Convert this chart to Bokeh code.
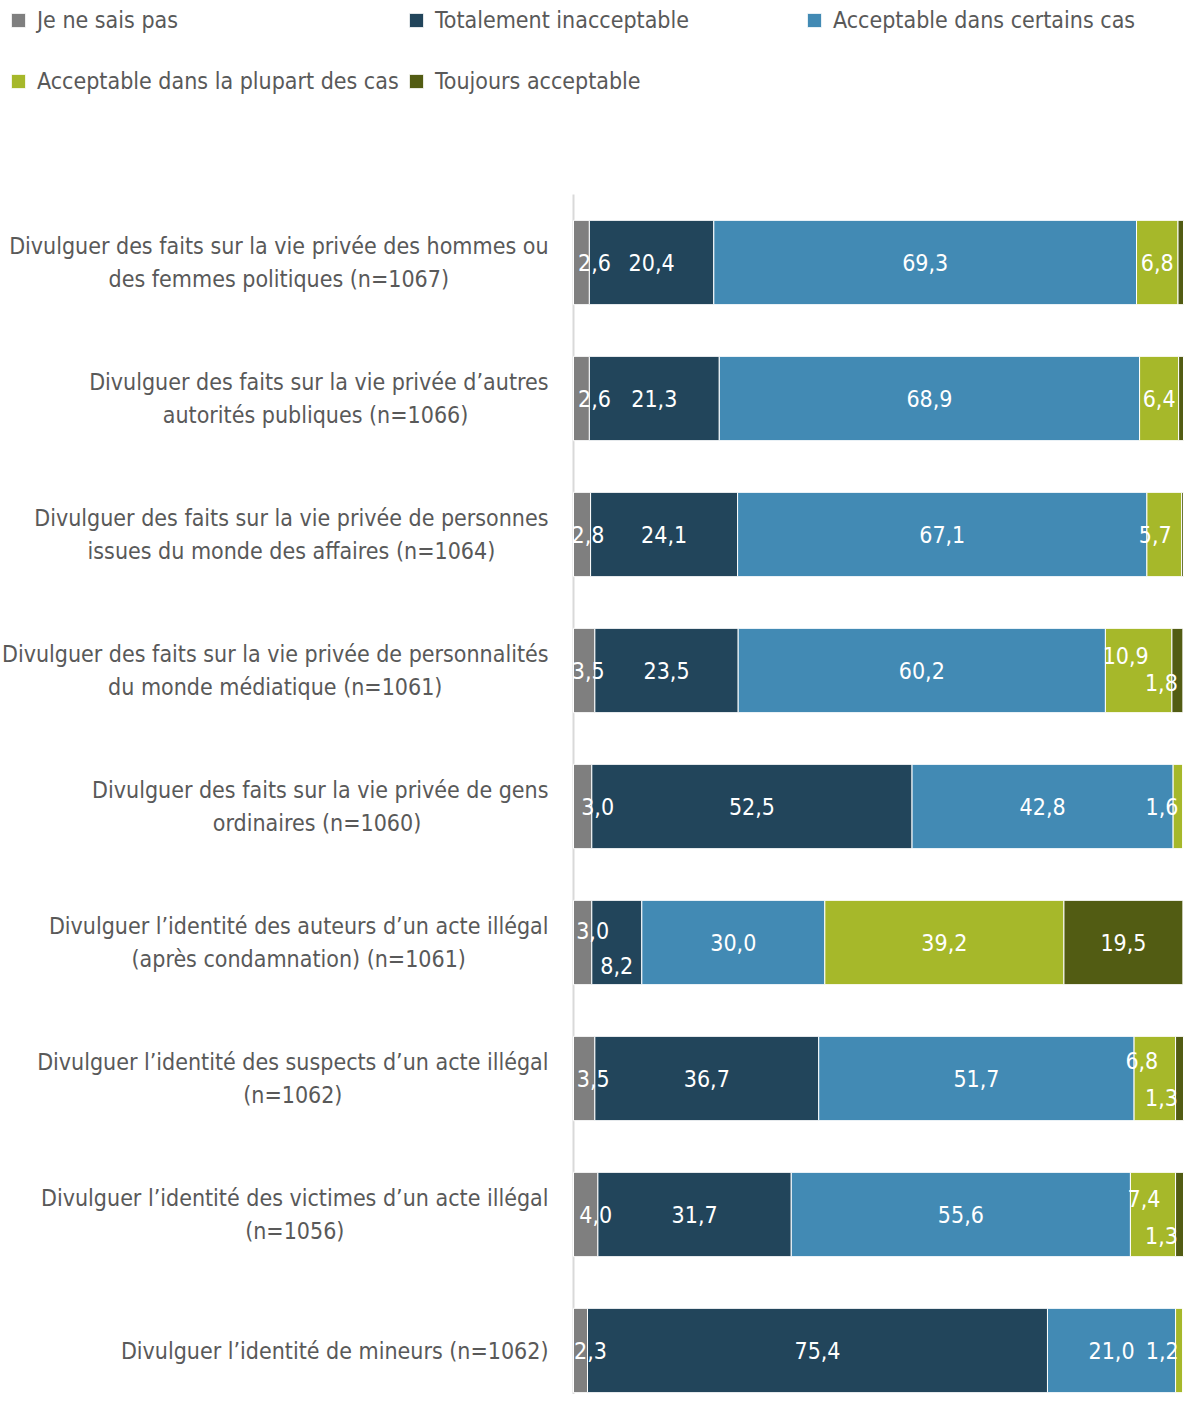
from bokeh.plotting import figure
from bokeh.models import Range1d, Legend, LegendItem, ColumnDataSource
from bokeh.core.properties import value
from bokeh.embed import file_html
from bokeh.resources import INLINE

categories = [
    "Divulguer des faits sur la vie privée des hommes ou\ndes femmes politiques (n=1067)",
    "Divulguer des faits sur la vie privée d’autres\nautorités publiques  (n=1066)",
    "Divulguer des faits sur la vie privée de personnes\nissues du monde des affaires (n=1064)",
    "Divulguer des faits sur la vie privée de personnalités\ndu monde médiatique (n=1061)",
    "Divulguer des faits sur la vie privée de gens\nordinaires  (n=1060)",
    "Divulguer l’identité des auteurs d’un acte illégal\n(après condamnation) (n=1061)",
    "Divulguer l’identité des suspects d’un acte illégal\n(n=1062)",
    "Divulguer l’identité des victimes d’un acte illégal\n(n=1056)",
    "Divulguer l’identité de mineurs (n=1062)",
]
series_names = [
    "Je ne sais pas",
    "Totalement inacceptable",
    "Acceptable dans certains cas",
    "Acceptable dans la plupart des cas",
    "Toujours acceptable",
]
je_ne_sais_pas = [2.6, 2.6, 2.8, 3.5, 3.0, 3.0, 3.5, 4.0, 2.3]
totalement_inacceptable = [20.4, 21.3, 24.1, 23.5, 52.5, 8.2, 36.7, 31.7, 75.4]
acceptable_certains = [69.3, 68.9, 67.1, 60.2, 42.8, 30.0, 51.7, 55.6, 21.0]
acceptable_plupart = [6.8, 6.4, 5.7, 10.9, 1.6, 39.2, 6.8, 7.4, 1.2]
toujours_acceptable = [0.9, 0.8, 0.3, 1.8, 0.0, 19.5, 1.3, 1.3, 0.0]

series_values = [je_ne_sais_pas, totalement_inacceptable, acceptable_certains,
                 acceptable_plupart, toujours_acceptable]
colors = ["#7f7f7f", "#22455b", "#428ab4", "#a6b82a", "#525c13"]

# label nudges (pixels) for narrow segments: (row, series) -> (dx, dy)
label_nudge = {
    (0, 0): (13, 0), (1, 0): (13, 0), (2, 0): (6, 0), (2, 3): (-9, 0),
    (3, 0): (4, 0), (3, 3): (-13, -15), (3, 4): (-16, 12),
    (4, 0): (15, 0), (4, 3): (-16, 0),
    (5, 0): (10, -12), (5, 1): (0, 23),
    (6, 0): (9, 0), (6, 3): (-13, -18), (6, 4): (-18, 19),
    (7, 0): (10, 0), (7, 3): (-9, -16), (7, 4): (-18, 21),
    (8, 0): (10, 0), (8, 3): (-17, 0),
}

FONT = "'DejaVu Sans Condensed', 'Liberation Sans Narrow', 'Roboto Condensed', sans-serif"
FS = "23px"
W, H = 1184, 1394
n = len(categories)
rows = list(range(n))

x0_px, px_per_unit = 573.0, 6.1
y0_px, row_px = 262.0, 136.0
p = figure(width=W, height=H, output_backend="svg", toolbar_location=None,
           x_range=Range1d(-x0_px / px_per_unit, (W - x0_px) / px_per_unit),
           y_range=Range1d((H - y0_px) / row_px, -y0_px / row_px),
           min_border=0, outline_line_color=None)
p.axis.visible = False
p.grid.visible = False

# vertical axis line
p.segment(x0=[0], x1=[0], y0=[-0.5], y1=[p.y_range.start], line_color="#d9d9d9", line_width=2)

legend_items = []
left = [0.0] * n
lx, ly, lt, ldx, ldy = [], [], [], [], []
for s, (name, vals, col) in enumerate(zip(series_names, series_values, colors)):
    right = [l + v for l, v in zip(left, vals)]
    r = p.hbar(y=rows, left=left, right=right, height=0.62, fill_color=col,
               line_color="white", line_width=1)
    legend_items.append(LegendItem(label=name, renderers=[r]))
    for i, v in enumerate(vals):
        if v >= 1:
            dx, dy = label_nudge.get((i, s), (0, 0))
            lx.append((left[i] + right[i]) / 2)
            ly.append(i)
            lt.append(f"{v:.1f}".replace(".", ","))
            ldx.append(dx)
            ldy.append(dy)
    left = right

src = ColumnDataSource(dict(x=lx, y=ly, t=lt, dx=ldx, dy=ldy))
p.text(x="x", y="y", text="t", x_offset="dx", y_offset="dy", source=src,
       text_align="center", text_baseline="middle", text_color="white",
       text_font=value(FONT), text_font_size=FS)

cat_src = ColumnDataSource(dict(x=[-25 / px_per_unit] * n, y=rows, t=categories))
p.text(x="x", y="y", text="t", source=cat_src, anchor=value("center_right"),
       text_align="center", text_baseline="middle", text_color="#595959",
       text_font=value(FONT), text_font_size=FS, text_line_height=1.3)

LEG_ITEM_H, LEG_GAP = 55, 6
leg_h = 2 * LEG_ITEM_H + LEG_GAP
legend = Legend(items=legend_items, location=(9, H + 35 - LEG_ITEM_H / 2 - leg_h),
                ncols=3, orientation="horizontal",
                glyph_width=18, glyph_height=18, label_standoff=10,
                label_text_font=FONT, label_text_font_size=FS,
                label_text_color="#595959", label_width=364, label_height=LEG_ITEM_H,
                spacing=LEG_GAP, padding=0, margin=0, background_fill_alpha=0,
                border_line_color=None)
p.add_layout(legend)

open("out.html", "w").write(file_html(p, INLINE))
